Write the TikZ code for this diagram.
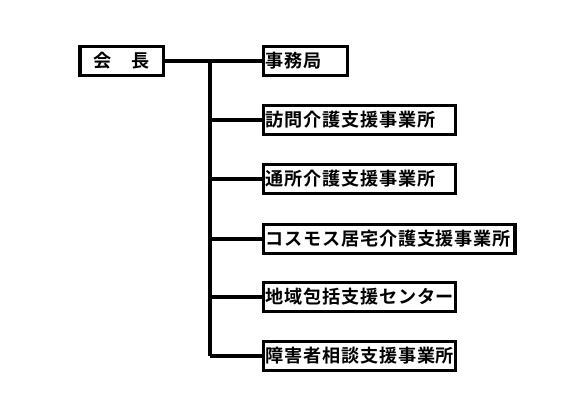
\documentclass[tikz,border=0pt]{standalone}
\usepackage{fontspec}
\setmainfont{Noto Sans CJK JP}
\newfontfamily\jpfont[LetterSpace=4.5]{Noto Sans CJK JP Bold}
\begin{document}
\begin{tikzpicture}[x=0.75pt,y=-0.75pt,
  orgbox/.style={draw=black, line width=2.7pt, fill=white, anchor=west,
    minimum height=21.5pt, inner xsep=1.6pt, inner ysep=0pt, align=left,
    font=\jpfont\fontsize{13.6pt}{16pt}\selectfont},
  conn/.style={line width=2.7pt, draw=black}]
\useasboundingbox (0,0) rectangle (585,410);
\node[orgbox, text width=59.5pt, align=center] (head) at (78,61) {会\hspace{1.1em}長};
\node[orgbox, text width=60pt] (b1) at (261.5,61) {事務局};
\node[orgbox, text width=141pt] (b2) at (261.5,120) {訪問介護支援事業所};
\node[orgbox, text width=141pt] (b3) at (261.5,179) {通所介護支援事業所};
\node[orgbox, text width=185.5pt] (b4) at (261.5,239) {コスモス居宅介護支援事業所};
\node[orgbox, text width=141pt] (b5) at (261.5,297) {地域包括支援センター};
\node[orgbox, text width=141pt] (b6) at (261.5,356) {障害者相談支援事業所};
\coordinate (trunktop) at (210,61);
\coordinate (trunkbot) at (210,356);
\draw[conn] (head.east) -- (b1.west);
\draw[conn] (trunktop) -- (trunkbot);
\foreach \n in {b2,b3,b4,b5,b6}{
  \draw[conn] (\n.west) -- (trunktop |- \n.west);
}
\end{tikzpicture}
\end{document}
